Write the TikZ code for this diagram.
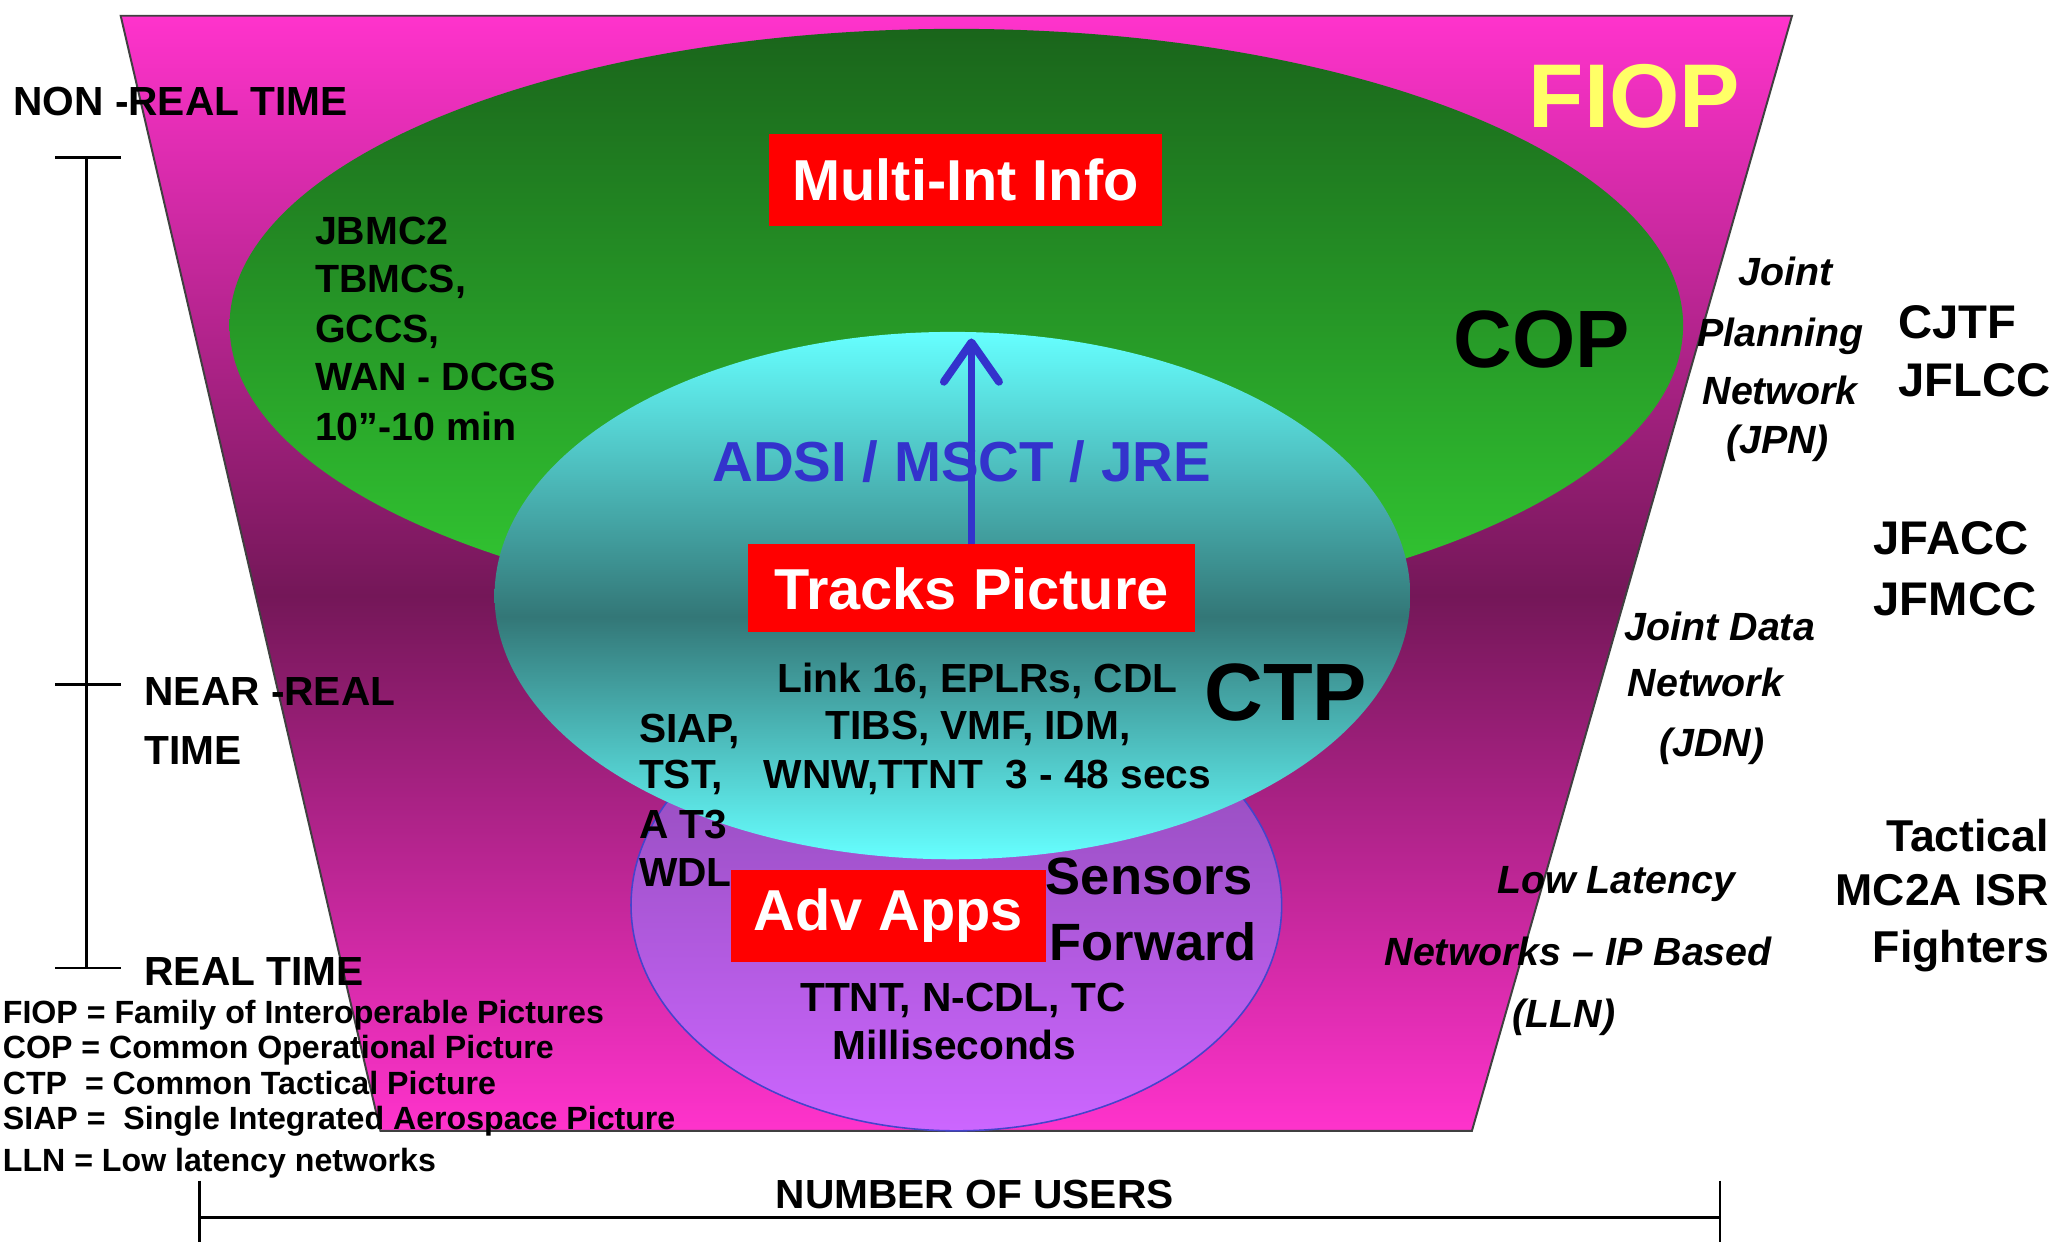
\documentclass[tikz,border=0pt]{standalone}
\usepackage{fontspec}
\setmainfont{Liberation Sans}
\usetikzlibrary{arrows.meta}

\definecolor{fiopTop}{HTML}{FF33CC}
\definecolor{fiopDark}{HTML}{741758}
\definecolor{copTop}{HTML}{1A651B}
\definecolor{copBot}{HTML}{33CC33}
\definecolor{ctpLight}{HTML}{66FFFF}
\definecolor{ctpDark}{HTML}{337777}
\definecolor{advTop}{HTML}{8A48B0}
\definecolor{advBot}{HTML}{CC66FF}
\definecolor{advLine}{HTML}{4444CC}
\definecolor{boxRed}{HTML}{FF0000}
\definecolor{linkBlue}{HTML}{3333CC}
\definecolor{fiopYellow}{HTML}{FFFF66}

\pgfdeclareverticalshading{fiopshade}{100bp}{color(0bp)=(fiopTop); color(25bp)=(fiopTop); color(49bp)=(fiopDark); color(75bp)=(fiopTop); color(100bp)=(fiopTop)}
\pgfdeclareverticalshading{ctpshade}{100bp}{color(0bp)=(ctpLight); color(25bp)=(ctpLight); color(48bp)=(ctpDark); color(75bp)=(ctpLight); color(100bp)=(ctpLight)}

\newcommand\setfs[1]{\fontsize{#1}{#1}\selectfont}

\tikzset{
  lab/.style={inner sep=0pt, font=\bfseries\setfs{#1}},
  itl/.style={inner sep=0pt, font=\bfseries\itshape\setfs{#1}},
  redbox/.style={fill=boxRed, text=white, inner sep=0pt, font=\bfseries\setfs{44}},
  scaleline/.style={line width=2pt, black},
  flowarrow/.style={line width=6pt, linkBlue, -{Straight Barb[length=30pt, width=42pt, line width=6pt, round]}}
}

\begin{document}
\begin{tikzpicture}[x=1pt, y=-1pt]
\fill[white] (0,0) rectangle (1568,947);
\useasboundingbox (0,0) rectangle (1568,947);

% FIOP trapezoid
\shade[shading=fiopshade] (92,12) -- (1366,12) -- (1122,862) -- (290,862) -- cycle;
\draw[line width=1.5pt, black!75] (92,12) -- (1366,12) -- (1122,862) -- (290,862) -- cycle;

% COP ellipse
\shade[top color=copTop, bottom color=copBot] (729,248) ellipse (554 and 226);
% Adv Apps ellipse
\shadedraw[top color=advTop, bottom color=advBot, draw=advLine, line width=1.2pt] (729,690) ellipse (248 and 172);
% CTP ellipse
\shade[shading=ctpshade] (726,454) ellipse (349 and 201);

% red boxes
\node[redbox, minimum width=300pt, minimum height=70pt] (multi) at (736,137) {Multi-Int Info};
\node[redbox, minimum width=341pt, minimum height=67pt] (tracks) at (740.5,448.5) {Tracks Picture};
\node[redbox, minimum width=240pt, minimum height=70pt] (adv) at (677,698) {Adv Apps};

% arrow
\coordinate (arrowtip) at (740.5,258);
\draw[flowarrow] (tracks.north) -- (arrowtip);
\node[lab=43, text=linkBlue, anchor=base] (adsi) at (733,367) {ADSI / MSCT / JRE};

% big labels
\node[lab=69, text=fiopYellow, anchor=base] (fiop) at (1246,97) {FIOP};
\node[lab=62, anchor=base] (cop) at (1175,280) {COP};
\node[lab=62, anchor=base] (ctp) at (980,549) {CTP};

% COP systems
\node[lab=30, anchor=base west] (g1) at (240,186) {JBMC2};
\node[lab=30, anchor=base west] (g2) at (240,223) {TBMCS,};
\node[lab=30, anchor=base west] (g3) at (240,261) {GCCS,};
\node[lab=30, anchor=base west] (g4) at (240,298) {WAN - DCGS};
\node[lab=30, anchor=base west] (g5) at (240,336) {10”-10 min};

% CTP systems
\node[lab=31, anchor=base] (c1) at (745,528) {Link 16, EPLRs, CDL};
\node[lab=31, anchor=base] (c2) at (745.5,564) {TIBS, VMF, IDM,};
\node[lab=31, anchor=base west] (c3) at (487,566) {SIAP,};
\node[lab=31, anchor=base west] (c4) at (487,601) {TST,};
\node[lab=31, anchor=base west] (c5) at (582,601) {WNW,TTNT\ \ 3 - 48 secs};
\node[lab=31, anchor=base west] (c6) at (487,639) {A T3};
\node[lab=31, anchor=base west] (c7) at (487,676) {WDL};

% Adv apps texts
\node[lab=40, anchor=base west] (s1) at (797,682) {Sensors};
\node[lab=40, anchor=base west] (s2) at (800,732) {Forward};
\node[lab=31, anchor=base] (s3) at (734,771) {TTNT, N-CDL, TC};
\node[lab=31, anchor=base] (s4) at (727.5,808) {Milliseconds};

% time scale
\node[lab=31, anchor=base west] (nrt) at (10,88) {NON -REAL TIME};
\node[lab=31, anchor=base west] (near1) at (110,538) {NEAR -REAL};
\node[lab=31, anchor=base west] (near2) at (110,583) {TIME};
\node[lab=31, anchor=base west] (rt) at (110,751) {REAL TIME};
\draw[scaleline] (66,120) -- (66,738);
\draw[scaleline] (42,120) -- (92,120);
\draw[scaleline] (42,522) -- (92,522);
\draw[scaleline] (42,738) -- (92,738);

% legend
\node[lab=24.5, anchor=base west] (l1) at (2,780) {FIOP = Family of Interoperable Pictures};
\node[lab=24.5, anchor=base west] (l2) at (2,807) {COP = Common Operational Picture};
\node[lab=24.5, anchor=base west] (l3) at (2,834) {CTP\ \ = Common Tactical Picture};
\node[lab=24.5, anchor=base west] (l4) at (2,861) {SIAP =\ \ Single Integrated Aerospace Picture};
\node[lab=24.5, anchor=base west] (l5) at (2,893) {LLN = Low latency networks};

% users axis
\node[lab=31, anchor=base] (users) at (743,921) {NUMBER OF USERS};
\draw[scaleline] (152,928) -- (1311,928);
\draw[scaleline] (152,900) -- (152,947);
\draw[scaleline] (1311,900) -- (1311,947);

% networks (italic)
\node[itl=30, anchor=base] (j1) at (1361,218) {Joint};
\node[itl=30, anchor=base] (j2) at (1357,264) {Planning};
\node[itl=30, anchor=base] (j3) at (1357,308) {Network};
\node[itl=30, anchor=base] (j4) at (1355,346) {(JPN)};
\node[itl=30, anchor=base] (d1) at (1311,488) {Joint Data};
\node[itl=30, anchor=base] (d2) at (1300,531) {Network};
\node[itl=30, anchor=base] (d3) at (1305,577) {(JDN)};
\node[itl=30, anchor=base] (n1) at (1232,681) {Low Latency};
\node[itl=30, anchor=base] (n2) at (1203,736) {Networks – IP Based};
\node[itl=30, anchor=base] (n3) at (1192,783) {(LLN)};

% users on right
\node[lab=36, anchor=base west] (u1) at (1447,258) {CJTF};
\node[lab=36, anchor=base west] (u2) at (1447,302) {JFLCC};
\node[lab=36, anchor=base west] (u3) at (1428,423) {JFACC};
\node[lab=36, anchor=base west] (u4) at (1428,469) {JFMCC};
\node[lab=34, anchor=base east] (t1) at (1562,649) {Tactical};
\node[lab=34, anchor=base east] (t2) at (1562,690) {MC2A ISR};
\node[lab=34, anchor=base east] (t3) at (1562,734) {Fighters};
\end{tikzpicture}
\end{document}
